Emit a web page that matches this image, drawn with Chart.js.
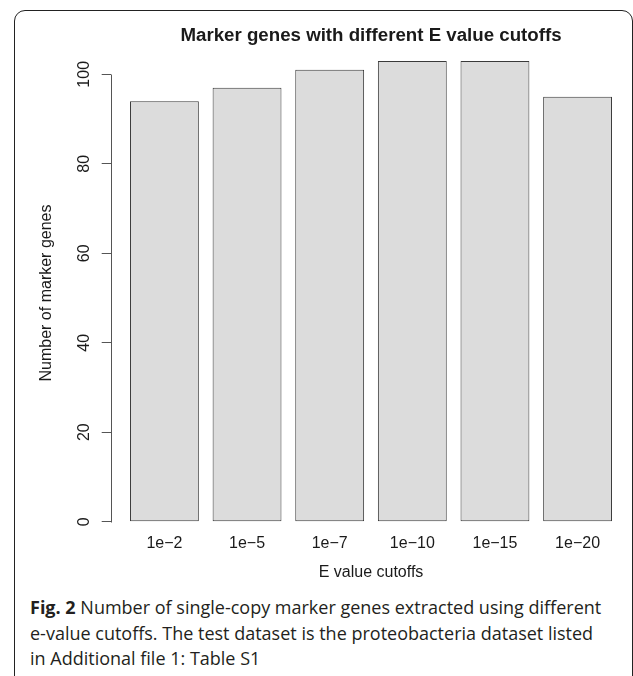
<!DOCTYPE html>
<html>
<head>
<meta charset="utf-8">
<script src="https://cdn.jsdelivr.net/npm/chart.js@4.4.1/dist/chart.umd.min.js"></script>
<style>
  html, body { margin: 0; padding: 0; background: #fff; width: 633px; height: 676px; overflow: hidden; }
  #frame { position: absolute; left: 14px; top: 10px; width: 619px; height: 720px; border: 1.5px solid #222; border-radius: 11px; box-sizing: border-box; }
  #wrap { position: absolute; left: 0; top: 0; width: 633px; height: 590px; }
  #caption { position: absolute; left: 30px; top: 595px; font-family: "Open Sans", sans-serif; font-size: 18px; line-height: 25.5px; color: #231f20; white-space: nowrap; }
  #caption b { font-weight: 700; }
</style>
</head>
<body>
<div id="frame"></div>
<div id="wrap"><canvas id="c" width="633" height="590"></canvas></div>
<div id="caption"><b>Fig. 2</b> Number of single-copy marker genes extracted using different<br>e-value cutoffs. The test dataset is the proteobacteria dataset listed<br>in Additional file 1: Table S1</div>
<script>
const chartTitle = "Marker genes with different E value cutoffs";
const xTitle = "E value cutoffs";
const yTitle = "Number of marker genes";
const categories = ["1e\u22122", "1e\u22125", "1e\u22127", "1e\u221210", "1e\u221215", "1e\u221220"];
const markerGenes = [94, 97, 101, 103, 103, 95];
const yTickValues = [0, 20, 40, 60, 80, 100];

// R barplot layout: width 1, space 0.2
const barCenter = i => 0.7 + i * 1.2;
const X_MIN = -0.08, X_MAX = 7.48;
const AXIS_FONT = { family: "'Liberation Sans', Arial, sans-serif", size: 16 };

const rAxisLine = {
  id: 'rAxisLine',
  afterDraw(chart) {
    const y = chart.scales.y;
    const ctx = chart.ctx;
    const x = Math.round(chart.chartArea.left) + 0.5;
    ctx.save();
    ctx.strokeStyle = '#555';
    ctx.lineWidth = 1;
    ctx.beginPath();
    ctx.moveTo(x, Math.round(y.getPixelForValue(yTickValues[0])) + 0.5);
    ctx.lineTo(x, Math.round(y.getPixelForValue(yTickValues[yTickValues.length - 1])) + 0.5);
    ctx.stroke();
    ctx.restore();
  }
};

new Chart(document.getElementById('c'), {
  type: 'bar',
  data: {
    datasets: [{
      data: markerGenes.map((v, i) => ({ x: barCenter(i), y: v })),
      backgroundColor: '#dcdcdc',
      borderColor: '#3a3a3a',
      borderWidth: 1,
      borderSkipped: false,
      barPercentage: 1,
      categoryPercentage: 1 / 1.2
    }]
  },
  options: {
    responsive: false,
    animation: false,
    devicePixelRatio: 1,
    layout: { padding: { left: 0, right: 1.7, top: 0, bottom: 0 } },
    plugins: { legend: { display: false }, title: { display: false }, tooltip: { enabled: false } },
    scales: {
      x: {
        type: 'linear', position: 'bottom', min: X_MIN, max: X_MAX, offset: false,
        grid: { display: false, drawTicks: false, offset: false },
        border: { display: false },
        afterBuildTicks: s => { s.ticks = categories.map((c, i) => ({ value: barCenter(i) })); },
        ticks: { autoSkip: false, maxRotation: 0, minRotation: 0, padding: 4, color: '#1a1a1a', font: AXIS_FONT,
                 callback: (v, i) => categories[i] },
        title: { display: true, text: xTitle, color: '#1a1a1a', font: AXIS_FONT, padding: { top: 0, bottom: 8 } },
        afterFit: s => { s.height = 60; }
      },
      xTop: {
        type: 'linear', position: 'top', min: X_MIN, max: X_MAX, offset: false,
        grid: { display: false, drawTicks: false },
        border: { display: false },
        ticks: { display: false },
        title: { display: true, text: chartTitle, color: '#1a1a1a',
                 font: { family: "'Liberation Sans', Arial, sans-serif", size: 18.7, weight: 'bold' },
                 padding: { top: 25, bottom: 0 } },
        afterFit: s => { s.height = 56; }
      },
      y: {
        type: 'linear', position: 'left', min: -1.855, max: 104.09,
        afterBuildTicks: s => { s.ticks = yTickValues.map(v => ({ value: v })); },
        grid: { display: true, drawOnChartArea: false, drawTicks: true, tickLength: 9, color: '#555', lineWidth: 1 },
        border: { display: false },
        ticks: { minRotation: 90, maxRotation: 90, crossAlign: 'center', padding: 4, color: '#1a1a1a', font: AXIS_FONT },
        title: { display: true, text: yTitle, color: '#1a1a1a', font: AXIS_FONT, padding: { top: 37, bottom: 0 } },
        afterFit: s => { s.width = 110.7; }
      }
    }
  },
  plugins: [rAxisLine]
});
</script>
</body>
</html>
